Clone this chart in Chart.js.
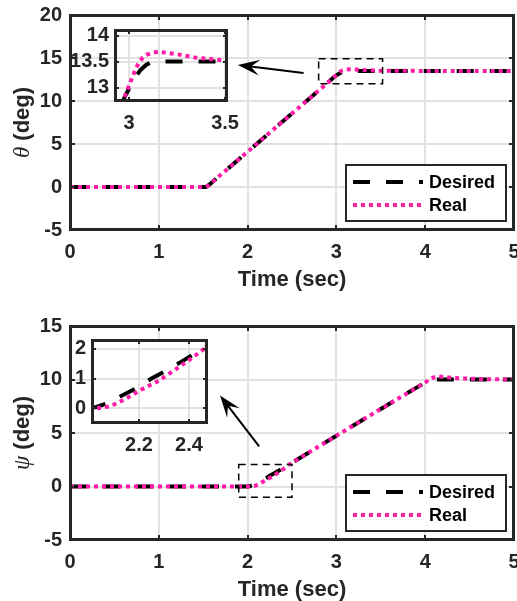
<!DOCTYPE html>
<html>
<head>
<meta charset="utf-8">
<script src="https://cdn.jsdelivr.net/npm/chart.js@4.4.0/dist/chart.umd.min.js"></script>
<style>
  html, body { margin: 0; padding: 0; background: #fff; }
  #wrap { position: relative; width: 517px; height: 601px; overflow: hidden; }
  canvas { position: absolute; }
</style>
</head>
<body>
<div id="wrap">
  <canvas id="thetaMain" width="517" height="300" style="left:0;top:0"></canvas>
  <canvas id="psiMain" width="517" height="300" style="left:0;top:301px"></canvas>
  <canvas id="thetaZoom" width="205" height="115" style="left:45px;top:25px"></canvas>
  <canvas id="psiZoom" width="200" height="125" style="left:30px;top:335px"></canvas>
</div>
<script>
// theta (top plot)
const thetaDesT = [0, 1.53, 1.56, 1.6, 2.0, 2.5, 2.9, 2.97, 3.0, 3.03, 3.06, 3.09, 3.12, 3.15, 5];
const thetaDesV = [0, 0, 0.2, 0.55, 4.1, 8.55, 12.1, 12.76, 12.98, 13.18, 13.34, 13.44, 13.49, 13.5, 13.5];
const thetaRealT = [0, 1.53, 1.56, 1.6, 2.0, 2.5, 2.9, 2.97, 3.005, 3.03, 3.05, 3.07, 3.09, 3.12, 3.15, 3.2, 3.27, 3.34, 3.41, 3.48, 3.6, 3.8, 4, 5];
const thetaRealV = [0, 0, 0.2, 0.55, 4.1, 8.55, 12.1, 12.76, 13.08, 13.32, 13.47, 13.57, 13.63, 13.67, 13.69, 13.67, 13.63, 13.58, 13.555, 13.53, 13.515, 13.505, 13.5, 13.5];

// psi (bottom plot)
const psiDesT = [0, 2.0, 2.03, 2.07, 2.14, 2.19, 2.25, 2.3, 2.37, 2.43, 2.5, 3.0, 3.5, 4.0, 4.03, 4.06, 4.1, 5];
const psiDesV = [0, 0, 0.04, 0.16, 0.46, 0.68, 1.0, 1.23, 1.57, 1.88, 2.22, 4.75, 7.25, 9.72, 9.88, 9.97, 10, 10];
const psiRealT = [0, 2.0, 2.05, 2.09, 2.15, 2.21, 2.28, 2.34, 2.41, 2.46, 2.5, 3.0, 3.5, 4.0, 4.06, 4.14, 4.25, 4.4, 4.7, 5];
const psiRealV = [0, 0, 0.01, 0.08, 0.33, 0.63, 0.93, 1.27, 1.68, 2.0, 2.22, 4.75, 7.25, 9.72, 10.1, 10.3, 10.2, 10.1, 10.03, 10];

// tick labels
const timeTicks = [0, 1, 2, 3, 4, 5];
const thetaTicks = [-5, 0, 5, 10, 15, 20];
const psiTicks = [-5, 0, 5, 10, 15];
const thetaZoomTimeTicks = [3, 3.5];
const thetaZoomTicks = [13, 13.5, 14];
const psiZoomTimeTicks = [2.2, 2.4];
const psiZoomTicks = [0, 1, 2];

const PINK = '#ff1ca8';
const INK = '#262626';
const GRID = '#e2e2e2';
const FONT = '"Liberation Sans", Arial, sans-serif';

function pts(ts, vs) {
  return ts.map((t, i) => ({ x: t, y: vs[i] }));
}

function series(desT, desV, realT, realV, clip) {
  return [
    { label: 'Desired', data: pts(desT, desV), borderColor: '#000', borderWidth: 4, borderDash: [17, 16],
      pointRadius: 0, order: 2, clip: clip },
    { label: 'Real', data: pts(realT, realV), borderColor: PINK, borderWidth: 4, borderDash: [4, 4],
      pointRadius: 0, order: 1, clip: clip }
  ];
}

function axis(min, max, tickList, o) {
  return {
    type: 'linear', min: min, max: max,
    afterBuildTicks: (s) => { s.ticks = tickList.map((v) => ({ value: v })); },
    afterFit: (s) => {
      if (o.width) { s.width = o.width; s.paddingTop = 0; s.paddingBottom = 0; }
      if (o.height) { s.height = o.height; s.paddingLeft = 0; s.paddingRight = 0; }
    },
    grid: { color: GRID, lineWidth: 2, drawTicks: false },
    border: { display: false },
    ticks: { padding: o.pad, color: INK, autoSkip: false, maxRotation: 0,
      font: { family: FONT, size: 20, weight: 'bold' }, callback: (v) => String(v) },
    title: o.title
      ? { display: true, text: o.title, color: INK, padding: 0, font: { family: FONT, size: 22, weight: 'bold', lineHeight: 1 } }
      : { display: false }
  };
}

function arrow(ctx, x1, y1, x2, y2) {
  const ang = Math.atan2(y2 - y1, x2 - x1);
  const L = 22, W = 8, N = 13;
  const c = Math.cos(ang), s = Math.sin(ang);
  ctx.beginPath();
  ctx.moveTo(x1, y1);
  ctx.lineTo(x2 - c * N, y2 - s * N);
  ctx.stroke();
  ctx.beginPath();
  ctx.moveTo(x2, y2);
  ctx.lineTo(x2 - c * L - s * W, y2 - s * L + c * W);
  ctx.lineTo(x2 - c * N, y2 - s * N);
  ctx.lineTo(x2 - c * L + s * W, y2 - s * L - c * W);
  ctx.closePath();
  ctx.fill();
}

const frame = {
  id: 'frame',
  beforeDraw(chart, args, o) {
    if (!o.fill) return;
    const a = chart.chartArea, ctx = chart.ctx;
    ctx.save();
    ctx.fillStyle = o.fill;
    ctx.fillRect(a.left, a.top, a.width, a.height);
    ctx.restore();
  },
  afterDraw(chart, args, o) {
    const ctx = chart.ctx, a = chart.chartArea;
    const xs = chart.scales.x, ys = chart.scales.y;
    ctx.save();

    if (o.box) {
      const b = o.box;
      const x1 = xs.getPixelForValue(b[0]), x2 = xs.getPixelForValue(b[1]);
      const y1 = ys.getPixelForValue(b[3]), y2 = ys.getPixelForValue(b[2]);
      ctx.strokeStyle = '#000';
      ctx.lineWidth = 1.5;
      ctx.setLineDash([7, 5]);
      ctx.strokeRect(x1, y1, x2 - x1, y2 - y1);
      ctx.setLineDash([]);
    }
    if (o.arrow) {
      const r = o.arrow;
      ctx.strokeStyle = '#000';
      ctx.fillStyle = '#000';
      ctx.lineWidth = 2;
      arrow(ctx, xs.getPixelForValue(r[0]), ys.getPixelForValue(r[1]),
        xs.getPixelForValue(r[2]), ys.getPixelForValue(r[3]));
    }

    // inward tick marks and box
    ctx.strokeStyle = INK;
    ctx.lineWidth = 2;
    const L = o.tickLen;
    ctx.beginPath();
    xs.ticks.forEach((t) => {
      const p = Math.round(xs.getPixelForValue(t.value));
      ctx.moveTo(p, a.bottom); ctx.lineTo(p, a.bottom - L);
      ctx.moveTo(p, a.top); ctx.lineTo(p, a.top + L);
    });
    ys.ticks.forEach((t) => {
      const p = Math.round(ys.getPixelForValue(t.value));
      ctx.moveTo(a.left, p); ctx.lineTo(a.left + L, p);
      ctx.moveTo(a.right, p); ctx.lineTo(a.right - L, p);
    });
    ctx.stroke();
    ctx.lineWidth = 3;
    ctx.strokeRect(a.left + 0.5, a.top + 0.5, a.width - 1, a.height - 1);

    if (o.yTitle) {
      const cy = (a.top + a.bottom) / 2;
      const symFont = 'italic 23px "Liberation Serif", serif';
      const txtFont = 'bold 22px ' + FONT;
      ctx.font = symFont;
      const w1 = ctx.measureText(o.yTitle[0]).width;
      ctx.font = txtFont;
      const w2 = ctx.measureText(o.yTitle[1]).width;
      ctx.translate(o.yTitleX, cy);
      ctx.rotate(-Math.PI / 2);
      ctx.fillStyle = INK;
      ctx.textBaseline = 'middle';
      ctx.textAlign = 'left';
      ctx.font = symFont;
      ctx.fillText(o.yTitle[0], -(w1 + w2) / 2, 0);
      ctx.font = txtFont;
      ctx.fillText(o.yTitle[1], -(w1 + w2) / 2 + w1, 0);
      ctx.setTransform(1, 0, 0, 1, 0, 0);
    }

    if (o.legend) {
      const g = o.legend;
      const bx = a.right - g.right - g.w, by = a.bottom - g.bottom - g.h;
      ctx.fillStyle = '#fff';
      ctx.fillRect(bx, by, g.w, g.h);
      ctx.strokeStyle = INK;
      ctx.lineWidth = 2;
      ctx.strokeRect(bx, by, g.w, g.h);
      chart.data.datasets.forEach((ds, i) => {
        const y = by + g.rows[i];
        ctx.strokeStyle = ds.borderColor;
        ctx.lineWidth = ds.borderWidth;
        ctx.setLineDash(ds.borderDash);
        ctx.beginPath();
        ctx.moveTo(bx + 7, y);
        ctx.lineTo(bx + 77, y);
        ctx.stroke();
        ctx.setLineDash([]);
        ctx.fillStyle = '#000';
        ctx.font = 'bold 18px ' + FONT;
        ctx.textBaseline = 'middle';
        ctx.textAlign = 'left';
        ctx.fillText(ds.label, bx + 83, y + 1);
      });
    }
    ctx.restore();
  }
};

function mainChart(id, desT, desV, realT, realV, yMin, yMax, yTicks, padTop, padBottom, extra) {
  return new Chart(document.getElementById(id), {
    type: 'line',
    data: { datasets: series(desT, desV, realT, realV) },
    options: {
      responsive: false, animation: false, devicePixelRatio: 1,
      layout: { padding: { left: 0, top: padTop, right: 3, bottom: padBottom } },
      scales: {
        x: axis(0, 5, timeTicks, { height: 61, pad: 10, title: 'Time (sec)' }),
        y: axis(yMin, yMax, yTicks, { width: 70, pad: 8 })
      },
      plugins: {
        legend: { display: false }, tooltip: { enabled: false },
        frame: Object.assign({ tickLen: 5, yTitleX: 23,
          legend: { right: 8, bottom: 9, w: 160, h: 56, rows: [17, 40] } }, extra)
      }
    },
    plugins: [frame]
  });
}

function zoomChart(id, desT, desV, realT, realV, xr, yr, xTicks, yTicks, yWidth, xHeight, fill) {
  return new Chart(document.getElementById(id), {
    type: 'line',
    data: { datasets: series(desT, desV, realT, realV, 0) },
    options: {
      responsive: false, animation: false, devicePixelRatio: 1,
      layout: { padding: { left: 0, top: 5, right: 23, bottom: 0 } },
      scales: {
        x: axis(xr[0], xr[1], xTicks, { height: xHeight, pad: 10 }),
        y: axis(yr[0], yr[1], yTicks, { width: yWidth, pad: 6 })
      },
      plugins: {
        legend: { display: false }, tooltip: { enabled: false },
        frame: { tickLen: 4, fill: fill }
      }
    },
    plugins: [frame]
  });
}

mainChart('thetaMain', thetaDesT, thetaDesV, thetaRealT, thetaRealV, -5, 20, thetaTicks, 15, 9,
  { yTitle: ['\u03b8', ' (deg)'], box: [2.8, 3.52, 12, 14.9], arrow: [2.63, 13.26, 1.89, 14.2] });
mainChart('psiMain', psiDesT, psiDesV, psiRealT, psiRealV, -5, 15, psiTicks, 25, 0,
  { yTitle: ['\u03c8', ' (deg)'], box: [1.9, 2.5, -1, 2.05], arrow: [2.13, 3.74, 1.69, 8.5] });
zoomChart('thetaZoom', thetaDesT, thetaDesV, thetaRealT, thetaRealV, [2.927, 3.51], [12.74, 14.11],
  thetaZoomTimeTicks, thetaZoomTicks, 70, 39, null);
zoomChart('psiZoom', psiDesT, psiDesV, psiRealT, psiRealV, [2.012, 2.472], [-0.5, 2.3],
  psiZoomTimeTicks, psiZoomTicks, 62, 37, '#fff');
</script>
</body>
</html>
